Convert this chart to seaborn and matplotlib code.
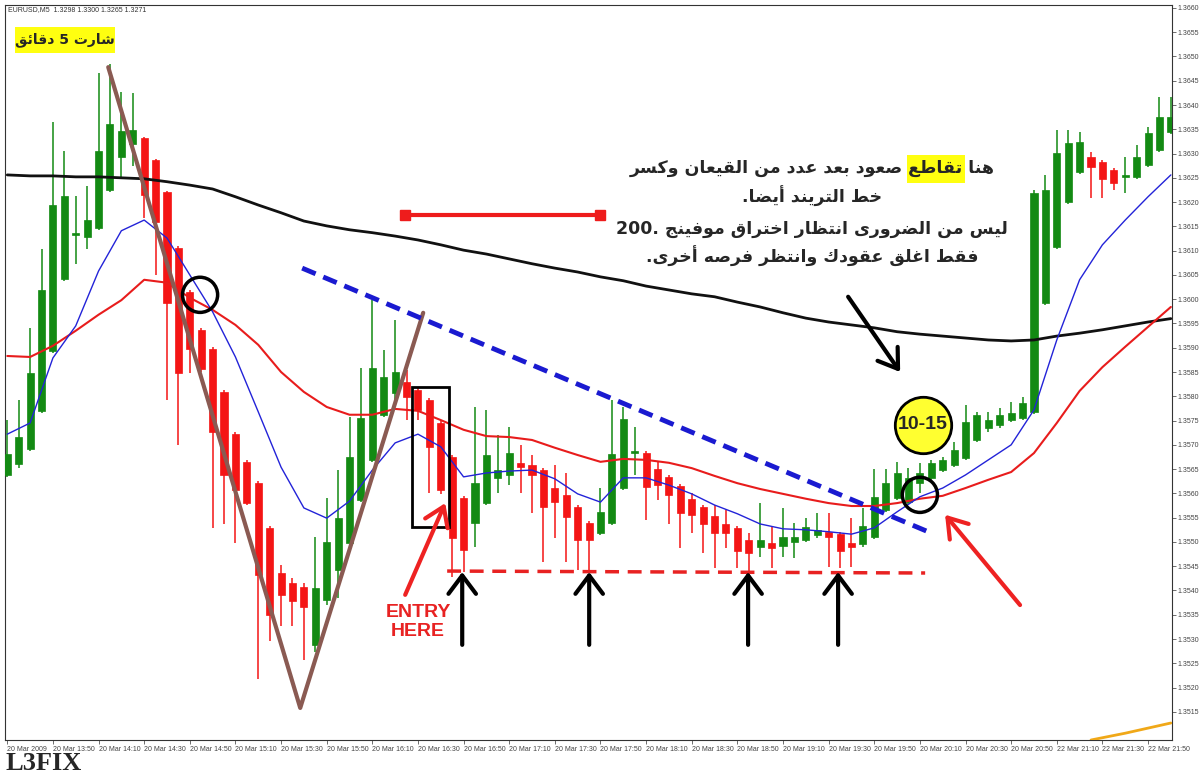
import re
import numpy as np
import pandas as pd
import seaborn as sns
import matplotlib
matplotlib.use('Agg')
import matplotlib.pyplot as plt
from matplotlib.patches import Rectangle

# EURUSD M5 candles
opens = [1.35638, 1.35661, 1.35692, 1.35770, 1.35893, 1.36042, 1.36132, 1.36128, 1.36147, 1.36225,
         1.36293, 1.36320, 1.36332, 1.36287, 1.36221, 1.36106, 1.36015, 1.35937, 1.35898, 1.35809,
         1.35722, 1.35665, 1.35621, 1.35529, 1.35436, 1.35415, 1.35407, 1.35288, 1.35380, 1.35442,
         1.35498, 1.35586, 1.35669, 1.35762, 1.35807, 1.35830, 1.35813, 1.35792, 1.35745, 1.35675,
         1.35591, 1.35539, 1.35580, 1.35632, 1.35638, 1.35663, 1.35659, 1.35648, 1.35611, 1.35597,
         1.35572, 1.35539, 1.35518, 1.35539, 1.35611, 1.35683, 1.35683, 1.35650, 1.35634, 1.35615,
         1.35589, 1.35572, 1.35554, 1.35537, 1.35529, 1.35504, 1.35490, 1.35498, 1.35492, 1.35500,
         1.35504, 1.35514, 1.35520, 1.35516, 1.35498, 1.35496, 1.35510, 1.35566, 1.35591, 1.35582,
         1.35621, 1.35632, 1.35648, 1.35659, 1.35673, 1.35710, 1.35735, 1.35741, 1.35751, 1.35755,
         1.35768, 1.35992, 1.36108, 1.36200, 1.36262, 1.36293, 1.36283, 1.36266, 1.36252, 1.36252,
         1.36277, 1.36307, 1.36345]
highs = [1.35751, 1.35792, 1.35941, 1.36104, 1.36365, 1.36305, 1.36213, 1.36233, 1.36466, 1.36485,
         1.36427, 1.36425, 1.36334, 1.36289, 1.36223, 1.36110, 1.36019, 1.35941, 1.35902, 1.35813,
         1.35726, 1.35669, 1.35625, 1.35533, 1.35453, 1.35426, 1.35415, 1.35510, 1.35591, 1.35648,
         1.35757, 1.35858, 1.35998, 1.35895, 1.35957, 1.35854, 1.35817, 1.35797, 1.35749, 1.35679,
         1.35595, 1.35778, 1.35772, 1.35720, 1.35737, 1.35700, 1.35679, 1.35652, 1.35659, 1.35642,
         1.35576, 1.35543, 1.35611, 1.35792, 1.35778, 1.35737, 1.35687, 1.35665, 1.35638, 1.35619,
         1.35601, 1.35576, 1.35576, 1.35566, 1.35533, 1.35518, 1.35580, 1.35531, 1.35570, 1.35539,
         1.35549, 1.35560, 1.35560, 1.35520, 1.35549, 1.35570, 1.35650, 1.35650, 1.35665, 1.35652,
         1.35663, 1.35669, 1.35675, 1.35706, 1.35782, 1.35768, 1.35768, 1.35776, 1.35788, 1.35799,
         1.36225, 1.36256, 1.36349, 1.36349, 1.36345, 1.36303, 1.36287, 1.36270, 1.36293, 1.36318,
         1.36355, 1.36417, 1.36417]
lows = [1.35634, 1.35652, 1.35688, 1.35766, 1.35889, 1.36038, 1.36073, 1.36104, 1.36143, 1.36221,
        1.36252, 1.36275, 1.36167, 1.36050, 1.35792, 1.35700, 1.35848, 1.35850, 1.35529, 1.35537,
        1.35498, 1.35576, 1.35218, 1.35296, 1.35327, 1.35327, 1.35257, 1.35273, 1.35370, 1.35385,
        1.35494, 1.35582, 1.35665, 1.35758, 1.35786, 1.35751, 1.35751, 1.35601, 1.35598, 1.35428,
        1.35438, 1.35490, 1.35576, 1.35601, 1.35617, 1.35601, 1.35560, 1.35459, 1.35508, 1.35459,
        1.35442, 1.35442, 1.35514, 1.35535, 1.35607, 1.35638, 1.35545, 1.35586, 1.35537, 1.35488,
        1.35518, 1.35477, 1.35446, 1.35488, 1.35446, 1.35438, 1.35469, 1.35446, 1.35469, 1.35467,
        1.35500, 1.35508, 1.35448, 1.35446, 1.35448, 1.35490, 1.35506, 1.35562, 1.35586, 1.35578,
        1.35601, 1.35628, 1.35644, 1.35654, 1.35669, 1.35706, 1.35727, 1.35735, 1.35747, 1.35751,
        1.35764, 1.35988, 1.36104, 1.36196, 1.36258, 1.36209, 1.36209, 1.36225, 1.36219, 1.36248,
        1.36273, 1.36303, 1.36341]
closes = [1.35681, 1.35716, 1.35848, 1.36019, 1.36194, 1.36213, 1.36136, 1.36163, 1.36305, 1.36361,
          1.36347, 1.36349, 1.36215, 1.36159, 1.35992, 1.35848, 1.35898, 1.35856, 1.35727, 1.35638,
          1.35607, 1.35580, 1.35432, 1.35350, 1.35391, 1.35378, 1.35366, 1.35405, 1.35500, 1.35549,
          1.35675, 1.35755, 1.35858, 1.35840, 1.35850, 1.35799, 1.35772, 1.35696, 1.35607, 1.35508,
          1.35483, 1.35621, 1.35679, 1.35648, 1.35683, 1.35654, 1.35638, 1.35572, 1.35582, 1.35551,
          1.35504, 1.35504, 1.35562, 1.35681, 1.35753, 1.35687, 1.35613, 1.35617, 1.35597, 1.35560,
          1.35556, 1.35537, 1.35518, 1.35518, 1.35481, 1.35477, 1.35504, 1.35488, 1.35510, 1.35510,
          1.35531, 1.35525, 1.35510, 1.35481, 1.35490, 1.35533, 1.35593, 1.35621, 1.35642, 1.35632,
          1.35642, 1.35663, 1.35669, 1.35689, 1.35747, 1.35762, 1.35751, 1.35762, 1.35766, 1.35786,
          1.36219, 1.36225, 1.36301, 1.36322, 1.36324, 1.36272, 1.36248, 1.36240, 1.36256, 1.36293,
          1.36343, 1.36375, 1.36375]

time_labels = ['20 Mar 2009', '20 Mar 13:50', '20 Mar 14:10', '20 Mar 14:30', '20 Mar 14:50',
               '20 Mar 15:10', '20 Mar 15:30', '20 Mar 15:50', '20 Mar 16:10', '20 Mar 16:30',
               '20 Mar 16:50', '20 Mar 17:10', '20 Mar 17:30', '20 Mar 17:50', '20 Mar 18:10',
               '20 Mar 18:30', '20 Mar 18:50', '20 Mar 19:10', '20 Mar 19:30', '20 Mar 19:50',
               '20 Mar 20:10', '20 Mar 20:30', '20 Mar 20:50', '22 Mar 21:10', '22 Mar 21:30',
               '22 Mar 21:50']
price_ticks = [1.3515, 1.3520, 1.3525, 1.3530, 1.3535, 1.3540, 1.3545, 1.3550, 1.3555, 1.3560,
               1.3565, 1.3570, 1.3575, 1.3580, 1.3585, 1.3590, 1.3595, 1.3600, 1.3605, 1.3610,
               1.3615, 1.3620, 1.3625, 1.3630, 1.3635, 1.3640, 1.3645, 1.3650, 1.3655, 1.3660]

# moving averages, read every 2nd candle
ma_idx = list(range(0, 103, 2))
ma_black = [1.36256, 1.36254, 1.36254, 1.36252, 1.36252, 1.36250, 1.36248, 1.36242, 1.36235, 1.36227,
            1.36211, 1.36194, 1.36178, 1.36161, 1.36151, 1.36143, 1.36137, 1.36130, 1.36122, 1.36112,
            1.36101, 1.36093, 1.36083, 1.36073, 1.36064, 1.36056, 1.36046, 1.36038, 1.36027, 1.36019,
            1.36011, 1.36005, 1.35994, 1.35984, 1.35972, 1.35961, 1.35953, 1.35947, 1.35941, 1.35933,
            1.35928, 1.35924, 1.35920, 1.35916, 1.35914, 1.35916, 1.35924, 1.35930, 1.35937, 1.35945,
            1.35953, 1.35960]
ma_red = [1.35883, 1.35881, 1.35904, 1.35935, 1.35968, 1.35998, 1.36040, 1.36034, 1.36003, 1.35978,
          1.35947, 1.35906, 1.35850, 1.35809, 1.35778, 1.35762, 1.35762, 1.35774, 1.35770, 1.35751,
          1.35731, 1.35718, 1.35716, 1.35710, 1.35694, 1.35679, 1.35665, 1.35671, 1.35669, 1.35663,
          1.35652, 1.35636, 1.35621, 1.35609, 1.35599, 1.35589, 1.35580, 1.35574, 1.35574, 1.35580,
          1.35589, 1.35595, 1.35611, 1.35628, 1.35644, 1.35683, 1.35745, 1.35811, 1.35860, 1.35902,
          1.35943, 1.35984]
ma_blue = [1.35722, 1.35745, 1.35879, 1.35945, 1.36058, 1.36141, 1.36163, 1.36126, 1.36050, 1.35974,
           1.35881, 1.35768, 1.35654, 1.35570, 1.35549, 1.35584, 1.35648, 1.35704, 1.35722, 1.35696,
           1.35634, 1.35642, 1.35646, 1.35648, 1.35630, 1.35599, 1.35582, 1.35632, 1.35632, 1.35617,
           1.35599, 1.35576, 1.35558, 1.35537, 1.35527, 1.35525, 1.35521, 1.35516, 1.35529, 1.35562,
           1.35593, 1.35611, 1.35638, 1.35669, 1.35700, 1.35772, 1.35916, 1.36040, 1.36112, 1.36163,
           1.36211, 1.36256]
orange_idx = [95, 98, 102]
orange_val = [1.35092, 1.35106, 1.35127]

# hand drawn marks (candle index, price)
v_line_x = [8.85, 25.68, 36.46]
v_line_y = [1.36478, 1.35158, 1.35972]
trend_x = [25.85, 80.72]
trend_y = [1.36064, 1.35521]
seg_x = [34.88, 51.97]
seg_y = [1.36174, 1.36174]
support_x = [38.56, 80.46]
support_y = [1.35440, 1.35436]
circle_x = [16.9, 80.0]
circle_y = [1.36009, 1.35597]
up_arrow_x = [39.88, 51.01, 64.94, 72.83]

GREEN = '#138a13'
RED = '#f41515'


# --- minimal arabic shaping (matplotlib has no bidi/joining) ---
AR = {
    '\u0627': (0xFE8D, 0xFE8E, None, None), '\u0623': (0xFE83, 0xFE84, None, None),
    '\u0628': (0xFE8F, 0xFE90, 0xFE91, 0xFE92), '\u062A': (0xFE95, 0xFE96, 0xFE97, 0xFE98),
    '\u062C': (0xFE9D, 0xFE9E, 0xFE9F, 0xFEA0), '\u062E': (0xFEA5, 0xFEA6, 0xFEA7, 0xFEA8),
    '\u062F': (0xFEA9, 0xFEAA, None, None), '\u0631': (0xFEAD, 0xFEAE, None, None),
    '\u0633': (0xFEB1, 0xFEB2, 0xFEB3, 0xFEB4), '\u0634': (0xFEB5, 0xFEB6, 0xFEB7, 0xFEB8),
    '\u0635': (0xFEB9, 0xFEBA, 0xFEBB, 0xFEBC), '\u0636': (0xFEBD, 0xFEBE, 0xFEBF, 0xFEC0),
    '\u0637': (0xFEC1, 0xFEC2, 0xFEC3, 0xFEC4), '\u0638': (0xFEC5, 0xFEC6, 0xFEC7, 0xFEC8),
    '\u0639': (0xFEC9, 0xFECA, 0xFECB, 0xFECC), '\u063A': (0xFECD, 0xFECE, 0xFECF, 0xFED0),
    '\u0641': (0xFED1, 0xFED2, 0xFED3, 0xFED4), '\u0642': (0xFED5, 0xFED6, 0xFED7, 0xFED8),
    '\u0643': (0xFED9, 0xFEDA, 0xFEDB, 0xFEDC), '\u0644': (0xFEDD, 0xFEDE, 0xFEDF, 0xFEE0),
    '\u0645': (0xFEE1, 0xFEE2, 0xFEE3, 0xFEE4), '\u0646': (0xFEE5, 0xFEE6, 0xFEE7, 0xFEE8),
    '\u0647': (0xFEE9, 0xFEEA, 0xFEEB, 0xFEEC), '\u0648': (0xFEED, 0xFEEE, None, None),
    '\u0649': (0xFEEF, 0xFEF0, None, None), '\u064A': (0xFEF1, 0xFEF2, 0xFEF3, 0xFEF4),
    '\u0626': (0xFE89, 0xFE8A, 0xFE8B, 0xFE8C),
}


def ar(s):
    out = []
    for k, ch in enumerate(s):
        if ch not in AR:
            out.append(ch)
            continue
        f = AR[ch]
        prev = s[k - 1] if k > 0 else ''
        nxt = s[k + 1] if k + 1 < len(s) else ''
        jp = prev in AR and AR[prev][2] is not None
        jn = nxt in AR and f[2] is not None
        if jp and jn:
            c = f[3]
        elif jp:
            c = f[1]
        elif jn:
            c = f[2]
        else:
            c = f[0]
        out.append(chr(c))
    parts = re.findall(r'[0-9A-Za-z.\-]+|[^0-9A-Za-z.\-]', ''.join(out))
    return ''.join(parts[::-1])


sns.set_theme(style='white')
plt.rcParams['font.family'] = ['DejaVu Sans']

W, H = 1202, 776
fig = plt.figure(figsize=(W / 100, H / 100), dpi=100)
ax = fig.add_axes([5 / W, 1 - 740 / H, 1167 / W, 735 / H])


def fx(x, y):
    return x / W, 1 - y / H


df = pd.DataFrame({'o': opens, 'h': highs, 'l': lows, 'c': closes})
df['i'] = np.arange(len(df))
df['up'] = df['c'] >= df['o']
colors = np.where(df['up'], GREEN, RED)

# wicks and bodies
ax.vlines(df['i'], df['l'], df['h'], colors=colors, lw=1.1, zorder=2)
body_lo = df[['o', 'c']].min(axis=1)
body_h = (df['c'] - df['o']).abs().clip(lower=0.00004)
ax.bar(df['i'], body_h, bottom=body_lo, width=0.62, color=colors, edgecolor=colors, lw=0.5, zorder=3)

# moving averages
ma = pd.DataFrame({'i': ma_idx, 'black': ma_black, 'red': ma_red, 'blue': ma_blue})
sns.lineplot(data=ma, x='i', y='black', color='#111111', lw=2.0, ax=ax, zorder=4)
sns.lineplot(data=ma, x='i', y='red', color='#e81c1c', lw=1.5, ax=ax, zorder=4)
sns.lineplot(data=ma, x='i', y='blue', color='#2323d8', lw=1.0, ax=ax, zorder=4)
sns.lineplot(x=orange_idx, y=orange_val, color='#f0a818', lw=2.0, ax=ax, zorder=4)

# drawings
ax.plot(v_line_x, v_line_y, color='#8a5a52', lw=3, solid_capstyle='round', zorder=5)
ax.plot(trend_x, trend_y, color='#1a1ad0', lw=3.5, ls=(0, (3, 1.7)), zorder=5)
ax.plot(seg_x, seg_y, color='#ee1c1c', lw=3, marker='s', ms=7, zorder=5)
ax.plot(support_x, support_y, color='#e82222', lw=2.5, ls=(0, (4, 2.5)), zorder=5)
ax.add_patch(Rectangle((35.5, 1.35531), 3.24, 0.00288, fill=False, ec='black', lw=2, zorder=6))
ax.scatter(circle_x, circle_y, s=640, facecolors='none', edgecolors='black', linewidths=2.5, zorder=6)

for xa in up_arrow_x:
    ax.annotate('', xy=(xa, 1.35438), xytext=(xa, 1.35288),
                arrowprops=dict(arrowstyle='->,head_length=0.6,head_width=0.45', color='black',
                                lw=3, mutation_scale=22, shrinkA=0, shrinkB=0), zorder=7)

# entry arrow and label
ax.annotate('', xy=(38.39, 1.35580), xytext=(34.88, 1.35391),
            arrowprops=dict(arrowstyle='->,head_length=0.6,head_width=0.4', color='#ee2222',
                            lw=3, mutation_scale=22, shrinkA=0, shrinkB=0), zorder=7)
ax.text(36.0, 1.35335, 'ENTRY\nHERE', color='#e82222', fontsize=14, fontweight='bold',
        family='Liberation Sans', ha='center', va='center', linespacing=1.15, zorder=7)

# arrow from the note to the yellow badge
ax.annotate('', xy=(78.27, 1.35850), xytext=(73.71, 1.36005),
            arrowprops=dict(arrowstyle='->,head_length=0.6,head_width=0.4', color='black',
                            lw=3, mutation_scale=22, shrinkA=0, shrinkB=0), zorder=7)
ax.scatter([80.28], [1.35741], s=1650, facecolors='#ffff30', edgecolors='black', linewidths=2, zorder=7)
ax.text(80.28, 1.35741, '10-15', fontsize=14, fontweight='bold', family='Liberation Sans',
        ha='center', va='center', zorder=8)

# red arrow at the cross
ax.annotate('', xy=(82.21, 1.35556), xytext=(88.78, 1.35370),
            arrowprops=dict(arrowstyle='->,head_length=0.6,head_width=0.4', color='#ee2222',
                            lw=3, mutation_scale=22, shrinkA=0, shrinkB=0), zorder=7)

# axes look (MT4 style)
ax.set_xlim(-0.2, 102.1)
ax.set_ylim(1.35092, 1.36606)
ax.set_xlabel('')
ax.set_ylabel('')
ax.yaxis.tick_right()
ax.set_yticks(price_ticks)
ax.set_yticklabels(['%.4f' % p for p in price_ticks], fontsize=5, family='Liberation Sans', color='#444444')
ax.set_xticks(range(0, 101, 4))
ax.set_xticklabels(time_labels, fontsize=5, family='Liberation Sans', color='#444444', ha='left')
ax.tick_params(axis='both', length=3, width=0.6, color='#555555', pad=1, direction='out')
ax.tick_params(axis='y', right=True, left=False)
ax.tick_params(axis='x', bottom=True)
for sp in ax.spines.values():
    sp.set_color('#333333')
    sp.set_linewidth(0.8)

# texts outside the data
fig.text(*fx(8, 10), 'EURUSD,M5  1.3298 1.3300 1.3265 1.3271', fontsize=5,
         family='Liberation Sans', color='#333333', va='center')
fig.patches.append(Rectangle(fx(15, 53), 100 / W, 26 / H, transform=fig.transFigure,
                             fc='#ffff10', ec='none', zorder=2))
fig.text(*fx(65, 40), ar('شارت 5 دقائق'), fontsize=10, fontweight='bold', ha='center', va='center', zorder=3)
fig.text(*fx(5, 775), 'L3FIX', fontsize=19, fontweight='bold', family='Liberation Serif',
         va='bottom', ha='left')

note = ['هنا تقاطع صعود بعد عدد من القيعان وكسر',
        'خط التريند أيضا.',
        'ليس من الضرورى انتظار اختراق موفينج 200.',
        'فقط اغلق عقودك وانتظر فرصه أخرى.']
note_y = [168, 196, 229, 256]
note_kw = dict(fontsize=12.5, fontweight='bold', ha='center', va='center', zorder=4)
cx = 812
texts = [fig.text(*fx(cx, yy), ar(s), **note_kw) for s, yy in zip(note, note_y)]

# yellow mark behind the second word of line one
r = fig.canvas.get_renderer()


def width(s):
    t = fig.text(0, 0, s, **note_kw)
    w = t.get_window_extent(renderer=r).width
    t.remove()
    return w


bb = texts[0].get_window_extent(renderer=r)
w_a = width(ar('هنا'))
w_b = width(ar('تقاطع'))
w_sp = width(ar('هنا تقاطع')) - w_a - w_b
right = bb.x1 - w_a - w_sp + 2
left = right - w_b - 4
top = H - note_y[0] + 13
fig.patches.append(Rectangle((left / W, (top - 28) / H), (right - left) / W, 28 / H,
                             transform=fig.transFigure, fc='#ffff10', ec='none', zorder=3))

fig.savefig('out.png', dpi=100)
